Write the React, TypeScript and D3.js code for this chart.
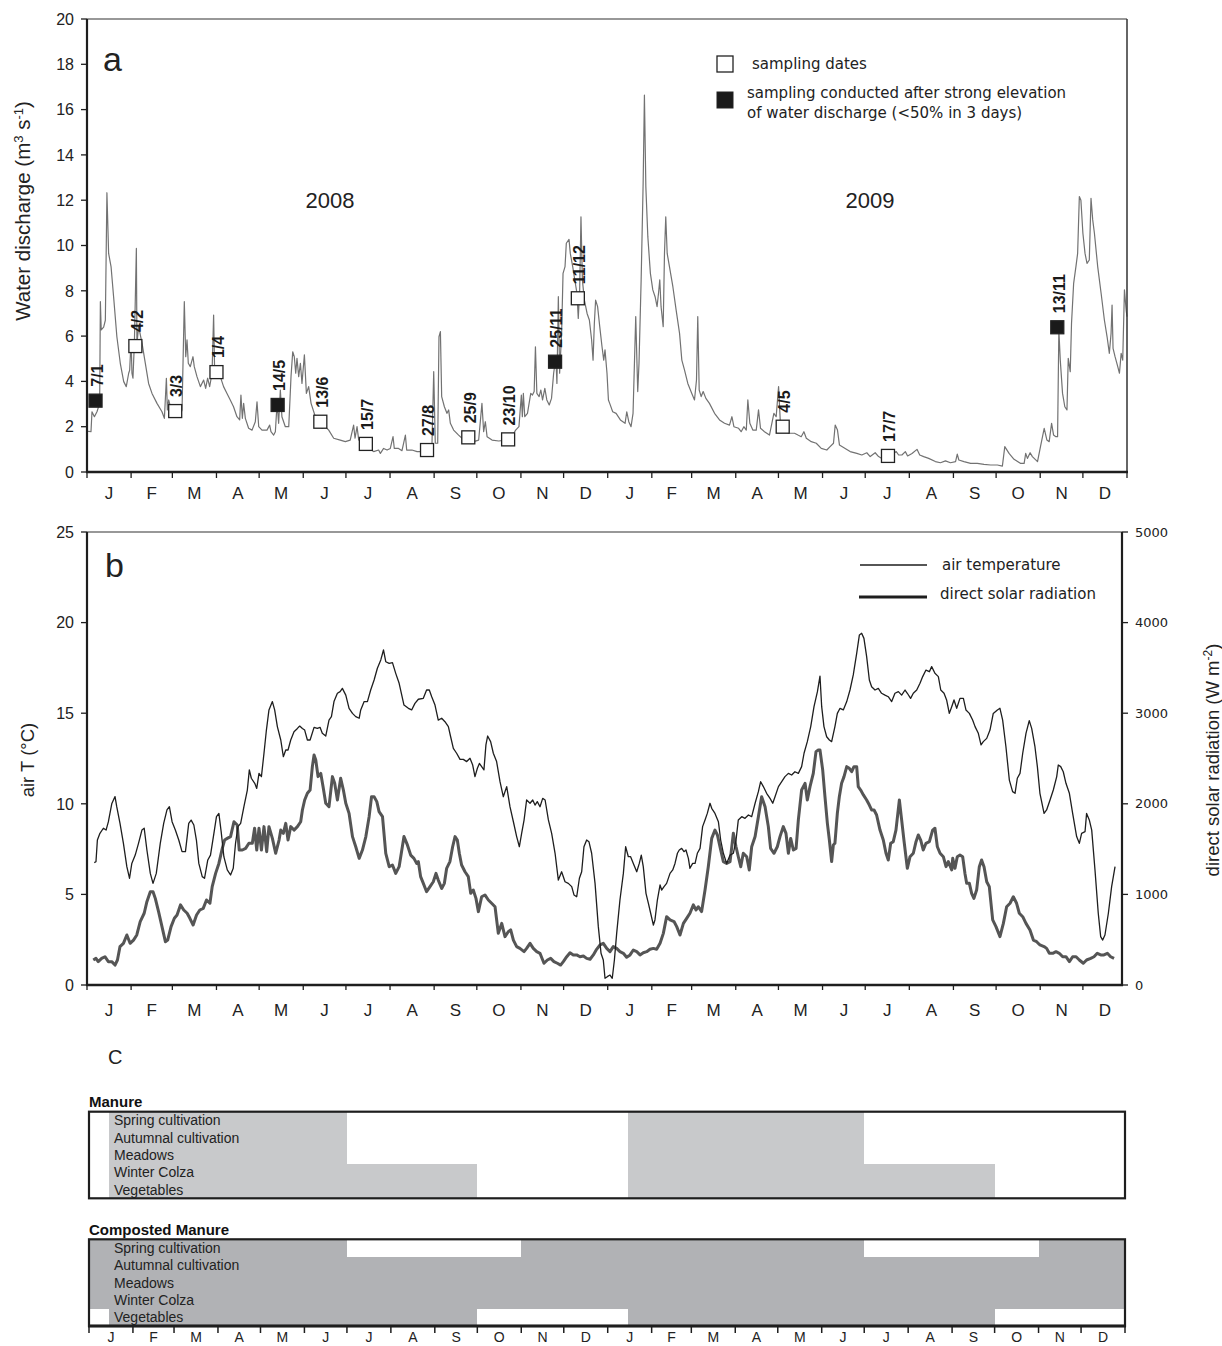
import React from "react";
import * as d3 from "d3";

// ---------- fonts ----------
const SANS = "'Liberation Sans', Arial, Helvetica, sans-serif";
const VERDANA = "'DejaVu Sans', Verdana, sans-serif";

// ---------- calendar ----------
const START = Date.UTC(2008, 0, 1);
const END = Date.UTC(2010, 0, 1);
const DAY = 864e5;
const monthInitials = ["J", "F", "M", "A", "M", "J", "J", "A", "S", "O", "N", "D"];

// ---------- axis ticks ----------
const dischargeTicks = [0, 2, 4, 6, 8, 10, 12, 14, 16, 18, 20];
const temperatureTicks = [0, 5, 10, 15, 20, 25];
const radiationTicks = [0, 1000, 2000, 3000, 4000, 5000];

// ---------- water discharge (m3 s-1), [day since 1 Jan 2008, value] ----------
const discharge: [number, number][] = [
  [0, 1.8], [2.8, 1.78], [3.5, 2.66], [5.2, 2.44], [7, 2.66], [8.9, 3.03], [9.4, 7.52], [10, 6.27], [11.7, 6.4], [12.9, 6.7],
  [14, 12.33], [15.2, 9.65], [16.9, 9.07], [18.7, 7.74], [21, 5.97], [23.4, 4.8], [25.8, 3.99], [27.6, 3.77], [29.3, 4.36], [30, 4.5],
  [31, 5.83], [31.6, 4.36], [32.3, 4.14], [33.3, 5.68], [34.7, 9.87], [35.1, 5.68], [36.3, 6.42], [38.7, 5.68], [41, 4.8], [43.3, 3.91],
  [45.7, 3.47], [49.2, 3.03], [52.7, 2.66], [54.4, 2.37], [55.8, 4.14], [56.5, 2.74], [57.4, 3.18], [58.6, 2.88], [61, 2.74], [63.3, 2.74],
  [65.6, 2.52], [66.8, 2.74], [68.4, 7.52], [69.4, 5.09], [70.3, 5.83], [71.2, 4.8], [72.6, 4.65], [74.5, 5.09], [75.4, 4.65], [77.3, 4.21],
  [79.7, 3.77], [82, 4.06], [83.4, 3.69], [84.8, 4.14], [86.2, 3.77], [87.9, 4.36], [89, 6.93], [89.7, 4.5], [91.8, 4.5], [93.7, 4.21],
  [96, 3.77], [98.4, 3.47], [100.7, 3.18], [103, 2.88], [105.4, 2.44], [107.3, 2.3], [108.2, 3.4], [109.2, 2.37], [110.1, 3.03], [111.3, 2.37],
  [113.6, 1.93], [116, 1.85], [118.3, 2.22], [119.5, 3.1], [120.7, 2.0], [123, 1.85], [126.5, 1.85], [128.4, 2.07], [129.3, 1.78], [131.2, 1.63],
  [132.4, 1.78], [133.6, 3.03], [134.7, 2.15], [135.9, 3.62], [137, 2.44], [139.4, 2.0], [141.8, 2.0], [143.4, 4.21], [144.6, 5.31], [145.7, 5.09],
  [146.7, 4.36], [147.6, 5.02], [148.8, 4.21], [150, 4.8], [151.1, 3.91], [152.8, 5.17], [154.2, 3.47], [155.8, 3.77], [157.5, 3.03], [160.5, 2.44],
  [162.8, 2.22], [165.2, 1.93], [167.5, 2.0], [169.9, 1.85], [173.4, 1.49], [178, 1.41], [181.6, 1.34], [185, 1.41], [187.4, 2.07], [188.4, 1.49],
  [189.8, 2.0], [191, 1.41], [194.5, 1.27], [198, 1.04], [201.5, 0.9], [205, 0.97], [206.2, 0.82], [208.5, 1.04], [210.9, 0.97], [213.2, 1.04],
  [215.1, 1.56], [216, 1.04], [219, 1.04], [221.4, 0.94], [223.8, 1.63], [224.7, 0.97], [228.4, 0.97], [232, 0.9], [235.5, 0.9], [240.2, 0.82],
  [242.5, 1.27], [243.7, 4.43], [244.8, 1.27], [246.5, 1.27], [247.4, 5.97], [248.4, 6.2], [249.3, 3.33], [251.2, 2.88], [253, 2.59], [254.2, 2.74],
  [255.4, 2.15], [257.7, 1.85], [261.2, 1.63], [263.6, 1.49], [267, 1.41], [271.8, 1.34], [275.3, 1.41], [277.6, 3.03], [278.8, 1.78], [280, 2.22],
  [281.2, 1.56], [284.7, 1.41], [289.4, 1.37], [294, 1.41], [298, 1.5], [301.3, 1.85], [303.6, 2.0], [305.3, 3.4], [306, 2.44], [306.7, 3.47],
  [307.7, 2.44], [309.6, 2.59], [311.9, 3.47], [313.1, 3.4], [314.3, 3.55], [315.2, 5.53], [316.2, 3.47], [317.8, 3.33], [319, 3.62], [320.2, 3.18],
  [321.8, 3.69], [323.2, 3.18], [324.9, 2.96], [326.5, 3.25], [328, 4.36], [329.6, 5.09], [330.3, 3.91], [331.3, 7.74], [332.2, 4.36], [333.6, 6.12],
  [334.6, 8.77], [336, 9.07], [336.9, 10.1], [338.8, 10.27], [339.7, 9.65], [341.4, 9.07], [342.5, 8.62], [344.4, 7.89], [345.3, 6.78], [346.3, 8.04],
  [347.2, 11.27], [348.2, 8.48], [349.6, 7.59], [351.5, 7.0], [353.1, 6.71], [354.7, 5.83], [355.7, 4.94], [356.6, 6.56], [357.5, 7.59], [358.9, 7.3],
  [360.4, 6.42], [362, 5.53], [363.2, 4.94], [364.1, 5.39], [365.5, 4.36], [366.5, 3.18], [367.4, 3.03], [369.5, 2.66], [371.9, 2.59], [374.9, 2.3],
  [378.2, 2.15], [379.4, 2.66], [380.8, 2.22], [382.4, 2.0], [383.8, 2.59], [385.7, 6.86], [387.1, 3.55], [388, 4.8], [389.5, 8.48], [390.9, 12.74],
  [391.8, 16.64], [392.8, 12.6], [394.2, 10.39], [396, 8.77], [397.7, 8.04], [399.3, 7.74], [400.7, 7.3], [401.7, 7.89], [402.6, 8.48], [403.5, 7.3],
  [405, 6.42], [405.9, 9.65], [406.8, 11.27], [407.8, 9.65], [409.4, 9.07], [411.8, 8.18], [414.1, 7.15], [416.5, 6.12], [418.1, 4.94], [420, 4.5],
  [422.3, 3.91], [425.1, 3.47], [427, 3.18], [428.4, 4.06], [429.3, 6.86], [430.3, 3.62], [431.7, 3.33], [433.1, 3.55], [435, 3.25], [437.5, 3.03],
  [441.1, 2.59], [444.6, 2.3], [448.1, 2.15], [451.6, 2.07], [453.3, 2.44], [454.7, 2.0], [458, 1.93], [459.8, 1.78], [461.7, 2.0], [463.4, 1.85],
  [464.5, 3.18], [465.9, 2.15], [468, 1.85], [470.4, 1.85], [472, 2.74], [473.4, 1.93], [476.2, 1.78], [479.7, 1.63], [482.8, 2.59], [484.4, 2.44],
  [486.1, 3.77], [487.5, 2.0], [490.3, 1.93], [493.1, 1.71], [497.3, 1.71], [499.7, 1.63], [502, 1.56], [503.9, 1.78], [505.6, 1.49], [509.1, 1.34],
  [512.6, 1.27], [516.1, 1.04], [520, 0.97], [522.3, 1.12], [524.7, 1.27], [525.9, 2.07], [527.5, 1.85], [528.9, 1.19], [532.9, 1.04], [536.4, 0.9],
  [541.1, 0.82], [544.6, 0.75], [548.1, 0.85], [550.5, 0.68], [554, 0.85], [556.4, 0.68], [558.7, 0.6], [563.4, 0.68], [568.8, 0.9], [570.5, 0.75],
  [572.8, 0.75], [575.2, 0.9], [576.8, 0.71], [579.9, 0.82], [583.4, 1.0], [585.3, 0.75], [588.1, 0.68], [591.6, 0.6], [596.3, 0.46], [599.9, 0.41],
  [603.4, 0.49], [606.9, 0.41], [610.5, 0.46], [611.7, 0.79], [612.8, 0.53], [616.4, 0.46], [621.1, 0.38], [625.8, 0.38], [630.5, 0.34], [635.2, 0.31],
  [639.9, 0.31], [643.4, 0.26], [645.1, 1.12], [648.1, 0.82], [651.6, 0.56], [656.3, 0.38], [658.7, 0.38], [659.8, 0.82], [661, 0.6], [662.9, 0.85],
  [664.5, 0.68], [668.1, 0.46], [670.4, 1.19], [672.8, 1.93], [674.7, 1.41], [676.3, 1.34], [678, 2.15], [679.4, 1.63], [681, 1.56], [682.2, 1.56],
  [683.1, 6.27], [684.1, 4.94], [685.7, 3.47], [687.3, 2.88], [688.8, 2.74], [689.7, 5.02], [691.1, 4.43], [692, 6.56], [693.5, 8.33], [695.1, 9.07],
  [696.3, 9.65], [697.5, 12.16], [698.6, 12.0], [700, 10.54], [701.5, 9.65], [702.9, 9.21], [704.5, 9.36], [705.7, 12.08], [706.9, 11.13], [708.1, 10.54],
  [710.4, 9.07], [712.8, 7.89], [715.1, 6.71], [717, 5.97], [718.6, 5.24], [719.8, 6.12], [720.5, 7.37], [721.2, 5.46], [722.6, 5.09], [724.5, 4.65],
  [725.7, 4.36], [726.9, 5.24], [728, 4.94], [729.2, 8.04], [730.4, 7.15], [731, 6.86],
];

// ---------- sampling campaigns ----------
const samplingLabels = ["7/1", "4/2", "3/3", "1/4", "14/5", "13/6", "15/7", "27/8", "25/9", "23/10", "25/11", "11/12", "4/5", "17/7", "13/11"];
const samplingYears = [2008, 2008, 2008, 2008, 2008, 2008, 2008, 2008, 2008, 2008, 2008, 2008, 2009, 2009, 2009];
const samplingDischarge = [3.15, 5.56, 2.69, 4.41, 2.96, 2.22, 1.24, 0.97, 1.53, 1.44, 4.87, 7.67, 2.0, 0.71, 6.39];
const samplingAfterFlood = [true, false, false, false, true, false, false, false, false, false, true, false, false, false, true];

// ---------- air temperature (°C), [day, value] ----------
const airTemperature: [number, number][] = [
  [5.1, 6.75], [6.3, 6.8], [7.3, 8.0], [9.1, 8.37], [11.5, 8.65], [13.4, 8.55], [15, 9.0], [17.4, 10.0], [19.7, 10.4], [20.9, 9.84],
  [23.2, 8.92], [25.6, 7.82], [28, 6.53], [29.9, 5.89], [31.5, 6.71], [33.9, 7.17], [36.2, 7.82], [38.6, 8.55], [40.2, 8.65], [42.1, 7.45],
  [44.5, 6.16], [46.4, 5.61], [48.7, 6.16], [51.5, 7.82], [53.9, 8.92], [56.2, 9.66], [57.9, 9.84], [59.8, 9.01], [62.1, 8.55], [64.5, 8.0],
  [66.8, 7.36], [69.2, 7.36], [71.5, 8.92], [73.2, 9.1], [75.1, 8.83], [76.9, 8.0], [78.6, 6.71], [81, 5.98], [82.6, 5.89], [84.9, 6.9],
  [86.8, 7.17], [89.2, 8.37], [91, 9.29], [92.7, 9.47], [94.3, 8.46], [96.2, 7.08], [98.6, 6.35], [100.9, 6.07], [102.8, 6.44], [104.4, 7.82],
  [106.1, 8.74], [108, 8.92], [110.3, 9.84], [112.7, 10.76], [114.1, 11.87], [115.5, 11.41], [117.9, 11.13], [119.3, 10.85], [120.9, 11.68], [122.6, 11.5],
  [124.4, 12.79], [126.1, 14.07], [127.9, 15.18], [130.3, 15.64], [131.9, 15.18], [133.8, 14.26], [136.2, 13.52], [138, 12.6], [139.7, 12.97], [141.3, 12.97],
  [143.2, 13.52], [145.5, 13.98], [147.9, 14.16], [149.5, 14.29], [151.4, 14.16], [153, 14.07], [154.9, 13.52], [156.8, 13.52], [159.6, 14.22], [161.9, 14.16],
  [163.8, 14.22], [165.4, 13.89], [167.8, 13.74], [170.1, 14.62], [171.8, 14.81], [173.6, 15.64], [176, 16.1], [177.9, 16.19], [179.5, 16.37], [181.9, 16.0],
  [184.2, 15.27], [186.6, 14.99], [188.9, 14.81], [191.3, 14.72], [192.4, 15.18], [194.8, 15.64], [197.1, 15.64], [199.4, 16.28], [201.8, 16.83], [204.1, 17.48],
  [206.5, 17.94], [208.4, 18.49], [210, 17.84], [212.4, 17.75], [214.7, 17.79], [217, 17.2], [219.4, 16.65], [222.8, 15.45], [225.9, 15.27], [228.2, 15.18],
  [230.5, 15.54], [232.9, 15.77], [236.4, 15.82], [238.7, 16.28], [240.6, 16.28], [242.3, 15.91], [244.6, 15.45], [246.9, 14.62], [249.3, 14.72], [251.6, 14.53],
  [254, 14.26], [255.6, 13.7], [257.5, 13.06], [259.8, 12.79], [262.2, 12.45], [264.5, 12.45], [266.9, 12.33], [269.2, 12.51], [271.1, 12.14], [272.7, 11.5],
  [274.4, 11.96], [275.8, 12.23], [277.4, 12.05], [279, 11.87], [280.4, 13.25], [281.6, 13.74], [283.7, 13.43], [285.6, 12.79], [287.9, 12.33], [290.3, 11.22],
  [292.6, 10.39], [295, 10.95], [297.3, 9.84], [299.7, 9.01], [302, 8.19], [303.9, 7.63], [305.5, 8.37], [307.2, 9.1], [309, 10.21], [311.4, 10.03],
  [313.3, 10.21], [314.9, 9.93], [316.5, 10.12], [318.4, 9.84], [320.3, 10.3], [322, 10.21], [324.3, 9.11], [326.6, 8.37], [329, 7.27], [331.3, 5.79],
  [333.6, 6.25], [336, 5.7], [338.3, 5.61], [340.7, 5.43], [342.3, 4.97], [344.2, 4.87], [346.1, 5.89], [347.7, 6.25], [349.3, 7.63], [351.2, 8.0],
  [352.8, 7.91], [354.7, 7.27], [357.1, 5.61], [359.4, 3.22], [361.3, 1.75], [362.9, 1.38], [364.1, 0.37], [365.7, 0.46], [367.6, 0.55], [369.2, 0.37],
  [370.7, 1.38], [372.3, 2.85], [374.6, 4.69], [377, 6.16], [378.6, 7.63], [380.5, 7.08], [382.1, 7.08], [384, 6.71], [386.4, 6.25], [388.2, 6.71],
  [389.6, 7.17], [391, 6.53], [392.9, 5.06], [394.6, 4.51], [396.2, 3.96], [398.1, 3.31], [399.2, 3.59], [400.9, 4.69], [402.8, 5.52], [403.9, 5.24],
  [405.6, 5.43], [407.4, 5.61], [409.8, 6.16], [411.7, 6.35], [413.3, 6.71], [415, 7.27], [416.3, 7.45], [418, 7.54], [419.6, 7.36], [421, 7.45],
  [422.7, 6.99], [423.8, 6.44], [425.7, 6.71], [427.4, 6.71], [429, 7.27], [430.9, 7.54], [432.7, 8.74], [434.4, 9.11], [436, 9.47], [437.9, 10.03],
  [439.1, 9.75], [441.4, 9.47], [443.8, 9.01], [445.4, 8.0], [447.3, 7.27], [449.6, 6.71], [452, 7.17], [454.3, 7.27], [456.2, 8.0], [457.8, 9.11],
  [460.2, 9.29], [462.5, 9.2], [464.9, 9.38], [467.2, 9.29], [469.6, 10.03], [471.9, 10.67], [473.5, 11.22], [475.4, 10.95], [477.7, 10.58], [480.1, 10.3],
  [482, 10.03], [483.6, 10.39], [486, 10.95], [488.3, 11.22], [490.6, 11.5], [493, 11.68], [495.3, 11.59], [497.6, 11.77], [500, 11.68], [502.3, 12.05],
  [504, 12.79], [506.3, 13.43], [508.7, 14.26], [511, 15.36], [513.4, 16.19], [515.2, 17.05], [516.4, 15.36], [518, 14.26], [519.9, 13.7], [521.8, 13.52],
  [523.4, 13.43], [525.7, 14.26], [527.4, 14.99], [529.3, 15.27], [531.6, 15.18], [534, 15.64], [536.3, 16.28], [538.6, 17.11], [541, 18.3], [542.9, 19.32],
  [544.5, 19.41], [546.1, 19.13], [548, 18.12], [549.9, 16.83], [551.5, 16.46], [553.9, 16.28], [556.2, 16.37], [558.5, 16.1], [560.9, 16.0], [563.2, 15.91],
  [565.6, 15.64], [567.9, 16.1], [570.3, 16.19], [572.6, 16.0], [575, 16.28], [576.6, 16.1], [578.9, 15.82], [580.8, 16.1], [583.2, 16.28], [585.5, 16.65],
  [587.4, 17.02], [589.7, 17.38], [592.1, 17.29], [593.7, 17.57], [596, 17.2], [598.4, 17.02], [600.1, 16.28], [602.4, 16.1], [604.2, 15.73], [606.1, 14.99],
  [607.8, 15.36], [609.4, 15.73], [611.3, 15.27], [613.6, 15.82], [616, 15.82], [617.8, 15.18], [620.2, 14.99], [622.5, 14.62], [624.2, 14.26], [626.5, 13.89],
  [628.4, 13.25], [630, 13.43], [632.4, 13.61], [634.7, 14.07], [637, 14.99], [639.9, 15.18], [641.7, 15.27], [643.6, 14.62], [645.9, 13.15], [648.3, 11.31],
  [650.6, 10.67], [652.3, 10.58], [653.9, 11.41], [655.8, 11.68], [657.7, 12.79], [660, 13.89], [662.3, 14.59], [664, 14.16], [666.3, 13.15], [668, 12.05],
  [669.8, 10.58], [672.7, 9.47], [674.5, 9.66], [676.9, 10.21], [679.2, 10.76], [681.6, 11.5], [682.7, 12.14], [684.4, 12.05], [686.2, 11.77], [688.1, 11.13],
  [690.5, 10.58], [692.8, 9.47], [695.6, 8.19], [697.5, 7.82], [699.1, 8.37], [701.5, 8.46], [702.6, 9.47], [704.5, 9.11], [706.2, 8.55], [708.5, 6.35],
  [710.8, 3.96], [712.5, 2.67], [713.9, 2.48], [715.5, 2.76], [717.9, 3.96], [720.2, 5.43], [722.6, 6.53],
];

// ---------- direct solar radiation (W m-2), [day, value] ----------
const solarRadiation: [number, number][] = [
  [4.4, 276], [6.3, 294], [7.9, 258], [10.3, 294], [12.6, 312], [15, 258], [17.4, 258], [19.7, 220], [21.4, 276], [23.2, 424],
  [25.6, 460], [28, 552], [30.3, 460], [32.7, 496], [35, 552], [37.4, 700], [40.2, 792], [42.1, 920], [44.5, 1030], [46.4, 1030],
  [48, 956], [50.3, 810], [52.7, 644], [55.1, 478], [56.7, 496], [59.1, 644], [61.4, 736], [63.3, 772], [65.7, 884], [68, 828],
  [70.4, 792], [72.3, 736], [74.6, 662], [77, 772], [79.3, 828], [81.7, 846], [84, 938], [86.4, 902], [88, 1086], [90.4, 1232],
  [92.7, 1342], [95.1, 1508], [96.7, 1600], [98.6, 1618], [100.9, 1638], [103.3, 1802], [105.6, 1766], [107, 1490], [109.2, 1490], [111.5, 1508],
  [113.8, 1564], [116.2, 1564], [117.8, 1730], [119.3, 1490], [120.9, 1730], [122.6, 1490], [124.4, 1748], [126.3, 1472], [127.9, 1748], [130.3, 1618],
  [132.6, 1454], [135, 1600], [136.2, 1710], [138, 1674], [139.7, 1784], [141.3, 1600], [143.2, 1748], [145.5, 1710], [147.9, 1748], [150.2, 1802],
  [151.4, 1932], [153, 2042], [154.9, 2116], [156.8, 2152], [158.4, 2410], [159.6, 2538], [160.8, 2484], [162.4, 2300], [164.3, 2336], [165.9, 2190],
  [167.8, 2006], [170.1, 1968], [172.5, 2300], [174.1, 2226], [176, 2042], [178.3, 2282], [180.2, 2152], [181.9, 2006], [184.2, 1894], [186.6, 1638],
  [188.9, 1526], [191.3, 1398], [193.6, 1490], [196, 1638], [198.3, 1858], [200, 2078], [201.8, 2078], [203.7, 2024], [205.3, 1914], [207.7, 1858],
  [210, 1454], [212.4, 1306], [214.7, 1324], [217, 1232], [219.4, 1306], [222.8, 1638], [225.2, 1546], [227.5, 1434], [229.8, 1398], [231.7, 1342],
  [232.9, 1362], [234.5, 1196], [236.4, 1122], [238.7, 1030], [241.1, 1086], [243.4, 1140], [245.3, 1232], [246.9, 1158], [249.3, 1066], [251.2, 1122],
  [252.8, 1288], [255.1, 1362], [257, 1526], [258.7, 1638], [260.3, 1600], [261.7, 1454], [263.3, 1324], [265.7, 1250], [268, 1196], [269.7, 1012],
  [271.5, 1048], [273.4, 956], [275.1, 810], [277.4, 974], [279.7, 994], [282.1, 938], [284.4, 902], [286.8, 864], [289.1, 570], [291.5, 680],
  [293.8, 534], [296.1, 588], [297.8, 608], [299.7, 496], [302, 424], [304.3, 404], [307.2, 368], [309, 404], [311.4, 460], [313.7, 404],
  [316.1, 368], [318.4, 350], [321.2, 240], [323.6, 276], [325.9, 294], [328.2, 258], [330.6, 240], [332.9, 220], [334.8, 258], [337.2, 312],
  [339.5, 356], [341.8, 332], [344.2, 332], [346.5, 312], [348.9, 320], [351.2, 294], [353.6, 284], [355.9, 332], [358.2, 394], [360.6, 442],
  [362.9, 460], [365.3, 404], [367.6, 368], [369.9, 424], [372.3, 404], [374.6, 368], [377, 350], [379.3, 306], [381.7, 332], [384, 386],
  [386.4, 368], [388.7, 332], [391, 356], [393.4, 368], [395.7, 394], [398.1, 404], [400.4, 394], [402.8, 460], [405.1, 570], [407.4, 754],
  [409.8, 718], [412.6, 700], [414.5, 644], [416.8, 552], [419.2, 680], [421.5, 736], [423.8, 792], [426.2, 884], [428.1, 828], [429.7, 864],
  [432, 810], [434.4, 1048], [436.7, 1306], [439.1, 1618], [441.4, 1710], [443.1, 1656], [444.9, 1526], [447.3, 1362], [449.6, 1342], [452, 1362],
  [454.3, 1674], [456.2, 1526], [457.8, 1416], [459.5, 1306], [461.3, 1454], [463.7, 1416], [465.5, 1270], [467.2, 1526], [469.6, 1638], [471.9, 1858],
  [474.2, 2078], [476.6, 1968], [478.9, 1748], [480.5, 1508], [482.9, 1454], [485.2, 1526], [487.1, 1638], [489.4, 1748], [491.3, 1674], [493, 1454],
  [494.6, 1618], [496.5, 1490], [498.4, 1508], [500, 1822], [502.3, 2152], [504.7, 2226], [506.3, 2042], [508.2, 2190], [510.5, 2336], [512.4, 2576],
  [514, 2594], [515.2, 2594], [517.1, 2374], [518.7, 2078], [520.4, 1784], [521.8, 1600], [523.4, 1362], [524.6, 1546], [525.7, 1564], [527.4, 1894],
  [528.8, 2078], [530.4, 2226], [532.1, 2300], [534, 2410], [535.8, 2392], [537.5, 2354], [539.1, 2410], [541, 2410], [542.1, 2190], [543.8, 2152],
  [545.7, 2098], [548, 2042], [549.9, 1986], [551.5, 1932], [553.2, 1932], [555, 1876], [557.4, 1710], [559.7, 1600], [561.6, 1454], [563.2, 1380],
  [564.9, 1564], [566.7, 1582], [568.6, 1710], [571, 2042], [572.6, 1822], [574.2, 1600], [576.6, 1288], [578.5, 1416], [580.8, 1454], [582.7, 1582],
  [584.3, 1656], [586, 1600], [587.8, 1490], [589.7, 1564], [592.1, 1582], [594.4, 1710], [596, 1730], [597.7, 1526], [599.6, 1454], [601.9, 1416],
  [603.8, 1306], [605.4, 1362], [607.8, 1270], [608.5, 1398], [610.1, 1288], [611.7, 1416], [613.6, 1434], [615.5, 1416], [617.1, 1232], [618.3, 1122],
  [620.2, 1122], [621.8, 1012], [623.4, 956], [625.3, 1048], [627.2, 1306], [628.8, 1380], [630.5, 1306], [632.4, 1140], [634.2, 1086], [636.6, 718],
  [638.9, 644], [641.7, 534], [644.1, 680], [646.4, 864], [648.8, 902], [651.1, 974], [653.4, 902], [655.3, 792], [657.7, 754], [660, 680],
  [662.8, 608], [665.2, 496], [667.5, 478], [669.8, 442], [672.7, 424], [674.5, 404], [676.4, 350], [678.8, 350], [681.1, 368], [683.4, 350],
  [685.8, 312], [688.1, 312], [690.5, 258], [692.8, 312], [695.2, 312], [697.5, 276], [700.3, 240], [702.6, 276], [705.5, 294], [707.8, 312],
  [710.1, 350], [712.5, 332], [714.8, 332], [717.2, 350], [719.5, 312], [721.9, 294],
];

// ---------- manure spreading calendar ----------
const practiceRows = ["Spring cultivation", "Autumnal cultivation", "Meadows", "Winter Colza", "Vegetables"];
const manurePeriods: [string, string][][] = [
  [["2008-01-15", "2008-07-01"], ["2009-01-15", "2009-07-01"]],
  [["2008-01-15", "2008-07-01"], ["2009-01-15", "2009-07-01"]],
  [["2008-01-15", "2008-07-01"], ["2009-01-15", "2009-07-01"]],
  [["2008-01-15", "2008-10-01"], ["2009-01-15", "2009-10-01"]],
  [["2008-01-15", "2008-10-01"], ["2009-01-15", "2009-10-01"]],
];
const compostPeriods: [string, string][][] = [
  [["2008-01-01", "2008-07-01"], ["2008-11-01", "2009-07-01"], ["2009-11-01", "2010-01-01"]],
  [["2008-01-01", "2010-01-01"]],
  [["2008-01-01", "2010-01-01"]],
  [["2008-01-01", "2010-01-01"]],
  [["2008-01-15", "2008-10-01"], ["2009-01-15", "2009-10-01"]],
];

// ---------- helpers ----------
const dayIndex = (t: number) => (t - START) / DAY;
const monthStarts = d3.utcMonth.range(new Date(START), new Date(END + 1)).map((d) => d.getTime());
const months = monthStarts.slice(0, 24).map((t, i) => ({
  start: t,
  end: monthStarts[i + 1],
  label: monthInitials[new Date(t).getUTCMonth()],
}));
const samplings = samplingLabels.map((label, i) => {
  const [dd, mm] = label.split("/").map(Number);
  return {
    label,
    day: dayIndex(Date.UTC(samplingYears[i], mm - 1, dd)),
    q: samplingDischarge[i],
    flood: samplingAfterFlood[i],
  };
});
const parseDay = d3.utcParse("%Y-%m-%d");

export default function App() {
  // shared daily time axis of panels a and b
  const x = d3.scaleLinear().domain([0, dayIndex(END)]).range([87, 1127]);
  const yA = d3.scaleLinear().domain([0, 20]).range([472, 19]);
  const yB = d3.scaleLinear().domain([0, 25]).range([985, 532]);
  const yR = d3.scaleLinear().domain([0, 5000]).range([985, 532]);
  const xC = d3.scaleUtc().domain([new Date(START), new Date(END)]).range([89, 1125]);

  const dischargeLine = d3.line<[number, number]>().x((d) => x(d[0])).y((d) => yA(d[1]));
  const tempLine = d3.line<[number, number]>().x((d) => x(d[0])).y((d) => yB(d[1]));
  const solarLine = d3.line<[number, number]>().x((d) => x(d[0])).y((d) => yR(d[1]));

  const bRight = 1122;
  const ink = "#1e1e1e";

  const manureBox = { top: 1111.7, bottom: 1198.3 };
  const compostBox = { top: 1239.3, bottom: 1326 };

  const renderBox = (
    box: { top: number; bottom: number },
    periods: [string, string][][],
    fill: string,
    key: string
  ) => {
    const rowH = (box.bottom - box.top) / practiceRows.length;
    return (
      <g key={key}>
        <g shapeRendering="crispEdges">
          {periods.map((rowPeriods, r) =>
            rowPeriods.map(([s, e], j) => {
              const x0 = Math.round(xC(parseDay(s) as Date));
              const x1 = Math.round(xC(parseDay(e) as Date));
              const y0 = Math.round(box.top + r * rowH);
              const y1 = Math.round(box.top + (r + 1) * rowH);
              return (
                <rect key={`${key}-${r}-${j}`} x={x0} y={y0} width={x1 - x0} height={y1 - y0} fill={fill} />
              );
            })
          )}
        </g>
        {practiceRows.map((name, r) => (
          <text
            key={`${key}-lab-${r}`}
            x={114}
            y={box.top + (r + 0.5) * rowH}
            dy="0.36em"
            fontFamily={SANS}
            fontSize={14}
            fill="#222"
          >
            {name}
          </text>
        ))}
        <rect
          x={xC.range()[0]}
          y={box.top}
          width={xC.range()[1] - xC.range()[0]}
          height={box.bottom - box.top}
          fill="none"
          stroke={ink}
          strokeWidth={2.2}
        />
      </g>
    );
  };

  return (
    <svg
      width={1222}
      height={1346}
      viewBox="0 0 1222 1346"
      style={{ position: "absolute", left: 0, top: 0, background: "#fff" }}
    >
      <rect x={0} y={0} width={1222} height={1346} fill="#fff" />

      {/* ================= panel a : water discharge ================= */}
      <path d={dischargeLine(discharge) || ""} fill="none" stroke="#727272" strokeWidth={1.2} strokeLinejoin="round" />

      {/* frame */}
      <line x1={87} x2={1127} y1={19} y2={19} stroke="#333" strokeWidth={1.2} />
      <line x1={1127} x2={1127} y1={19} y2={472} stroke="#333" strokeWidth={1.5} />
      <line x1={87} x2={87} y1={19} y2={473} stroke={ink} strokeWidth={2.2} />
      <line x1={86} x2={1128} y1={472} y2={472} stroke={ink} strokeWidth={2.5} />

      {dischargeTicks.map((t) => (
        <g key={`qa-${t}`}>
          <line x1={81} x2={87} y1={yA(t)} y2={yA(t)} stroke={ink} strokeWidth={1.3} />
          <text x={74} y={yA(t)} dy="0.36em" textAnchor="end" fontFamily={SANS} fontSize={16} fill="#222">
            {t}
          </text>
        </g>
      ))}
      {monthStarts.map((t) => (
        <line key={`ta-${t}`} x1={x(dayIndex(t))} x2={x(dayIndex(t))} y1={472} y2={478} stroke={ink} strokeWidth={1.3} />
      ))}
      {months.map((m) => (
        <text
          key={`ma-${m.start}`}
          x={x((dayIndex(m.start) + dayIndex(m.end)) / 2)}
          y={499}
          textAnchor="middle"
          fontFamily={SANS}
          fontSize={17}
          fill="#222"
        >
          {m.label}
        </text>
      ))}

      <text
        transform="translate(30,211) rotate(-90)"
        textAnchor="middle"
        fontFamily={SANS}
        fontSize={20.5}
        fill="#222"
      >
        Water discharge (m<tspan dy={-7} fontSize={13}>3</tspan>
        <tspan dy={7}> s</tspan>
        <tspan dy={-7} fontSize={13}>-1</tspan>
        <tspan dy={7}>)</tspan>
      </text>

      <text x={103} y={71} fontFamily={SANS} fontSize={34} fill="#222">a</text>
      <text x={330} y={208} textAnchor="middle" fontFamily={SANS} fontSize={22} fill="#222">2008</text>
      <text x={870} y={208} textAnchor="middle" fontFamily={SANS} fontSize={22} fill="#222">2009</text>

      {/* sampling markers */}
      {samplings.map((s) => {
        const cx = x(s.day);
        const cy = yA(s.q);
        return (
          <g key={`s-${s.label}-${s.day}`}>
            <rect
              x={cx - 6.5}
              y={cy - 6.5}
              width={13}
              height={13}
              fill={s.flood ? "#1a1a1a" : "#fff"}
              stroke="#222"
              strokeWidth={1.3}
            />
            <text
              transform={`translate(${cx + 1.5},${cy - 14}) rotate(-90)`}
              dy="0.36em"
              fontFamily={SANS}
              fontSize={16}
              fontWeight="bold"
              fill="#1a1a1a"
            >
              {s.label}
            </text>
          </g>
        );
      })}

      {/* legend a */}
      <rect x={717} y={56} width={16} height={16} fill="#fff" stroke="#222" strokeWidth={1.3} />
      <text x={752} y={64} dy="0.36em" fontFamily={VERDANA} fontSize={15} fill="#222">sampling dates</text>
      <rect x={717} y={92} width={16} height={16} fill="#1a1a1a" stroke="#222" strokeWidth={1} />
      <text x={747} y={93} dy="0.36em" fontFamily={VERDANA} fontSize={15} fill="#222">
        sampling conducted after strong elevation
      </text>
      <text x={747} y={112.5} dy="0.36em" fontFamily={VERDANA} fontSize={15} fill="#222">
        of water discharge (&lt;50% in 3 days)
      </text>

      {/* ================= panel b : air temperature & solar radiation ================= */}
      <path d={solarLine(solarRadiation) || ""} fill="none" stroke="#555" strokeWidth={3} strokeLinejoin="round" />
      <path d={tempLine(airTemperature) || ""} fill="none" stroke="#1e1e1e" strokeWidth={1.3} strokeLinejoin="round" />

      <line x1={87} x2={bRight} y1={532} y2={532} stroke="#333" strokeWidth={1.2} />
      <line x1={87} x2={87} y1={532} y2={986} stroke={ink} strokeWidth={2.2} />
      <line x1={bRight} x2={bRight} y1={532} y2={986} stroke={ink} strokeWidth={2.2} />
      <line x1={86} x2={bRight + 1} y1={985} y2={985} stroke={ink} strokeWidth={2.5} />

      {temperatureTicks.map((t) => (
        <g key={`tb-${t}`}>
          <line x1={81} x2={87} y1={yB(t)} y2={yB(t)} stroke={ink} strokeWidth={1.3} />
          <text x={74} y={yB(t)} dy="0.36em" textAnchor="end" fontFamily={SANS} fontSize={16} fill="#222">
            {t}
          </text>
        </g>
      ))}
      {radiationTicks.map((t) => (
        <g key={`rb-${t}`}>
          <line x1={bRight} x2={bRight + 6} y1={yR(t)} y2={yR(t)} stroke={ink} strokeWidth={1.3} />
          <text x={1135} y={yR(t)} dy="0.36em" fontFamily={VERDANA} fontSize={13} fill="#222">
            {t}
          </text>
        </g>
      ))}
      {monthStarts
        .filter((t) => x(dayIndex(t)) <= bRight)
        .map((t) => (
          <line key={`tbx-${t}`} x1={x(dayIndex(t))} x2={x(dayIndex(t))} y1={985} y2={990} stroke={ink} strokeWidth={1.3} />
        ))}
      {months.map((m) => (
        <text
          key={`mb-${m.start}`}
          x={x((dayIndex(m.start) + dayIndex(m.end)) / 2)}
          y={1016}
          textAnchor="middle"
          fontFamily={SANS}
          fontSize={17}
          fill="#222"
        >
          {m.label}
        </text>
      ))}

      <text transform="translate(34,760) rotate(-90)" textAnchor="middle" fontFamily={SANS} fontSize={18.5} fill="#222">
        air T (°C)
      </text>
      <text transform="translate(1219,760) rotate(-90)" textAnchor="middle" fontFamily={SANS} fontSize={18.5} fill="#222">
        direct solar radiation (W m<tspan dy={-7} fontSize={12}>-2</tspan>
        <tspan dy={7}>)</tspan>
      </text>

      <text x={105} y={577} fontFamily={SANS} fontSize={34} fill="#222">b</text>

      {/* legend b */}
      <line x1={860} x2={927} y1={565} y2={565} stroke="#1e1e1e" strokeWidth={1.3} />
      <text x={942} y={565} dy="0.36em" fontFamily={VERDANA} fontSize={15} fill="#222">air temperature</text>
      <line x1={859} x2={927} y1={597} y2={597} stroke="#1e1e1e" strokeWidth={3} />
      <text x={940} y={594} dy="0.36em" fontFamily={VERDANA} fontSize={15} fill="#222">direct solar radiation</text>

      {/* ================= panel c : manure spreading calendar ================= */}
      <text x={108} y={1064} fontFamily={SANS} fontSize={20} fill="#222">C</text>

      <text x={89} y={1107} fontFamily={SANS} fontSize={15} fontWeight="bold" fill="#111">Manure</text>
      {renderBox(manureBox, manurePeriods, "#c8c9cb", "manure")}

      <text x={89} y={1234.5} fontFamily={SANS} fontSize={15} fontWeight="bold" fill="#111">Composted Manure</text>
      {renderBox(compostBox, compostPeriods, "#b1b2b5", "compost")}

      <line x1={xC.range()[0] - 1} x2={xC.range()[1] + 1} y1={compostBox.bottom} y2={compostBox.bottom} stroke={ink} strokeWidth={3} />
      {monthStarts.map((t) => (
        <line
          key={`tc-${t}`}
          x1={xC(new Date(t))}
          x2={xC(new Date(t))}
          y1={compostBox.bottom}
          y2={compostBox.bottom + 7}
          stroke={ink}
          strokeWidth={1.5}
        />
      ))}
      {months.map((m) => (
        <text
          key={`mc-${m.start}`}
          x={xC(new Date((m.start + m.end) / 2))}
          y={1342}
          textAnchor="middle"
          fontFamily={SANS}
          fontSize={14}
          fill="#222"
        >
          {m.label}
        </text>
      ))}
    </svg>
  );
}
